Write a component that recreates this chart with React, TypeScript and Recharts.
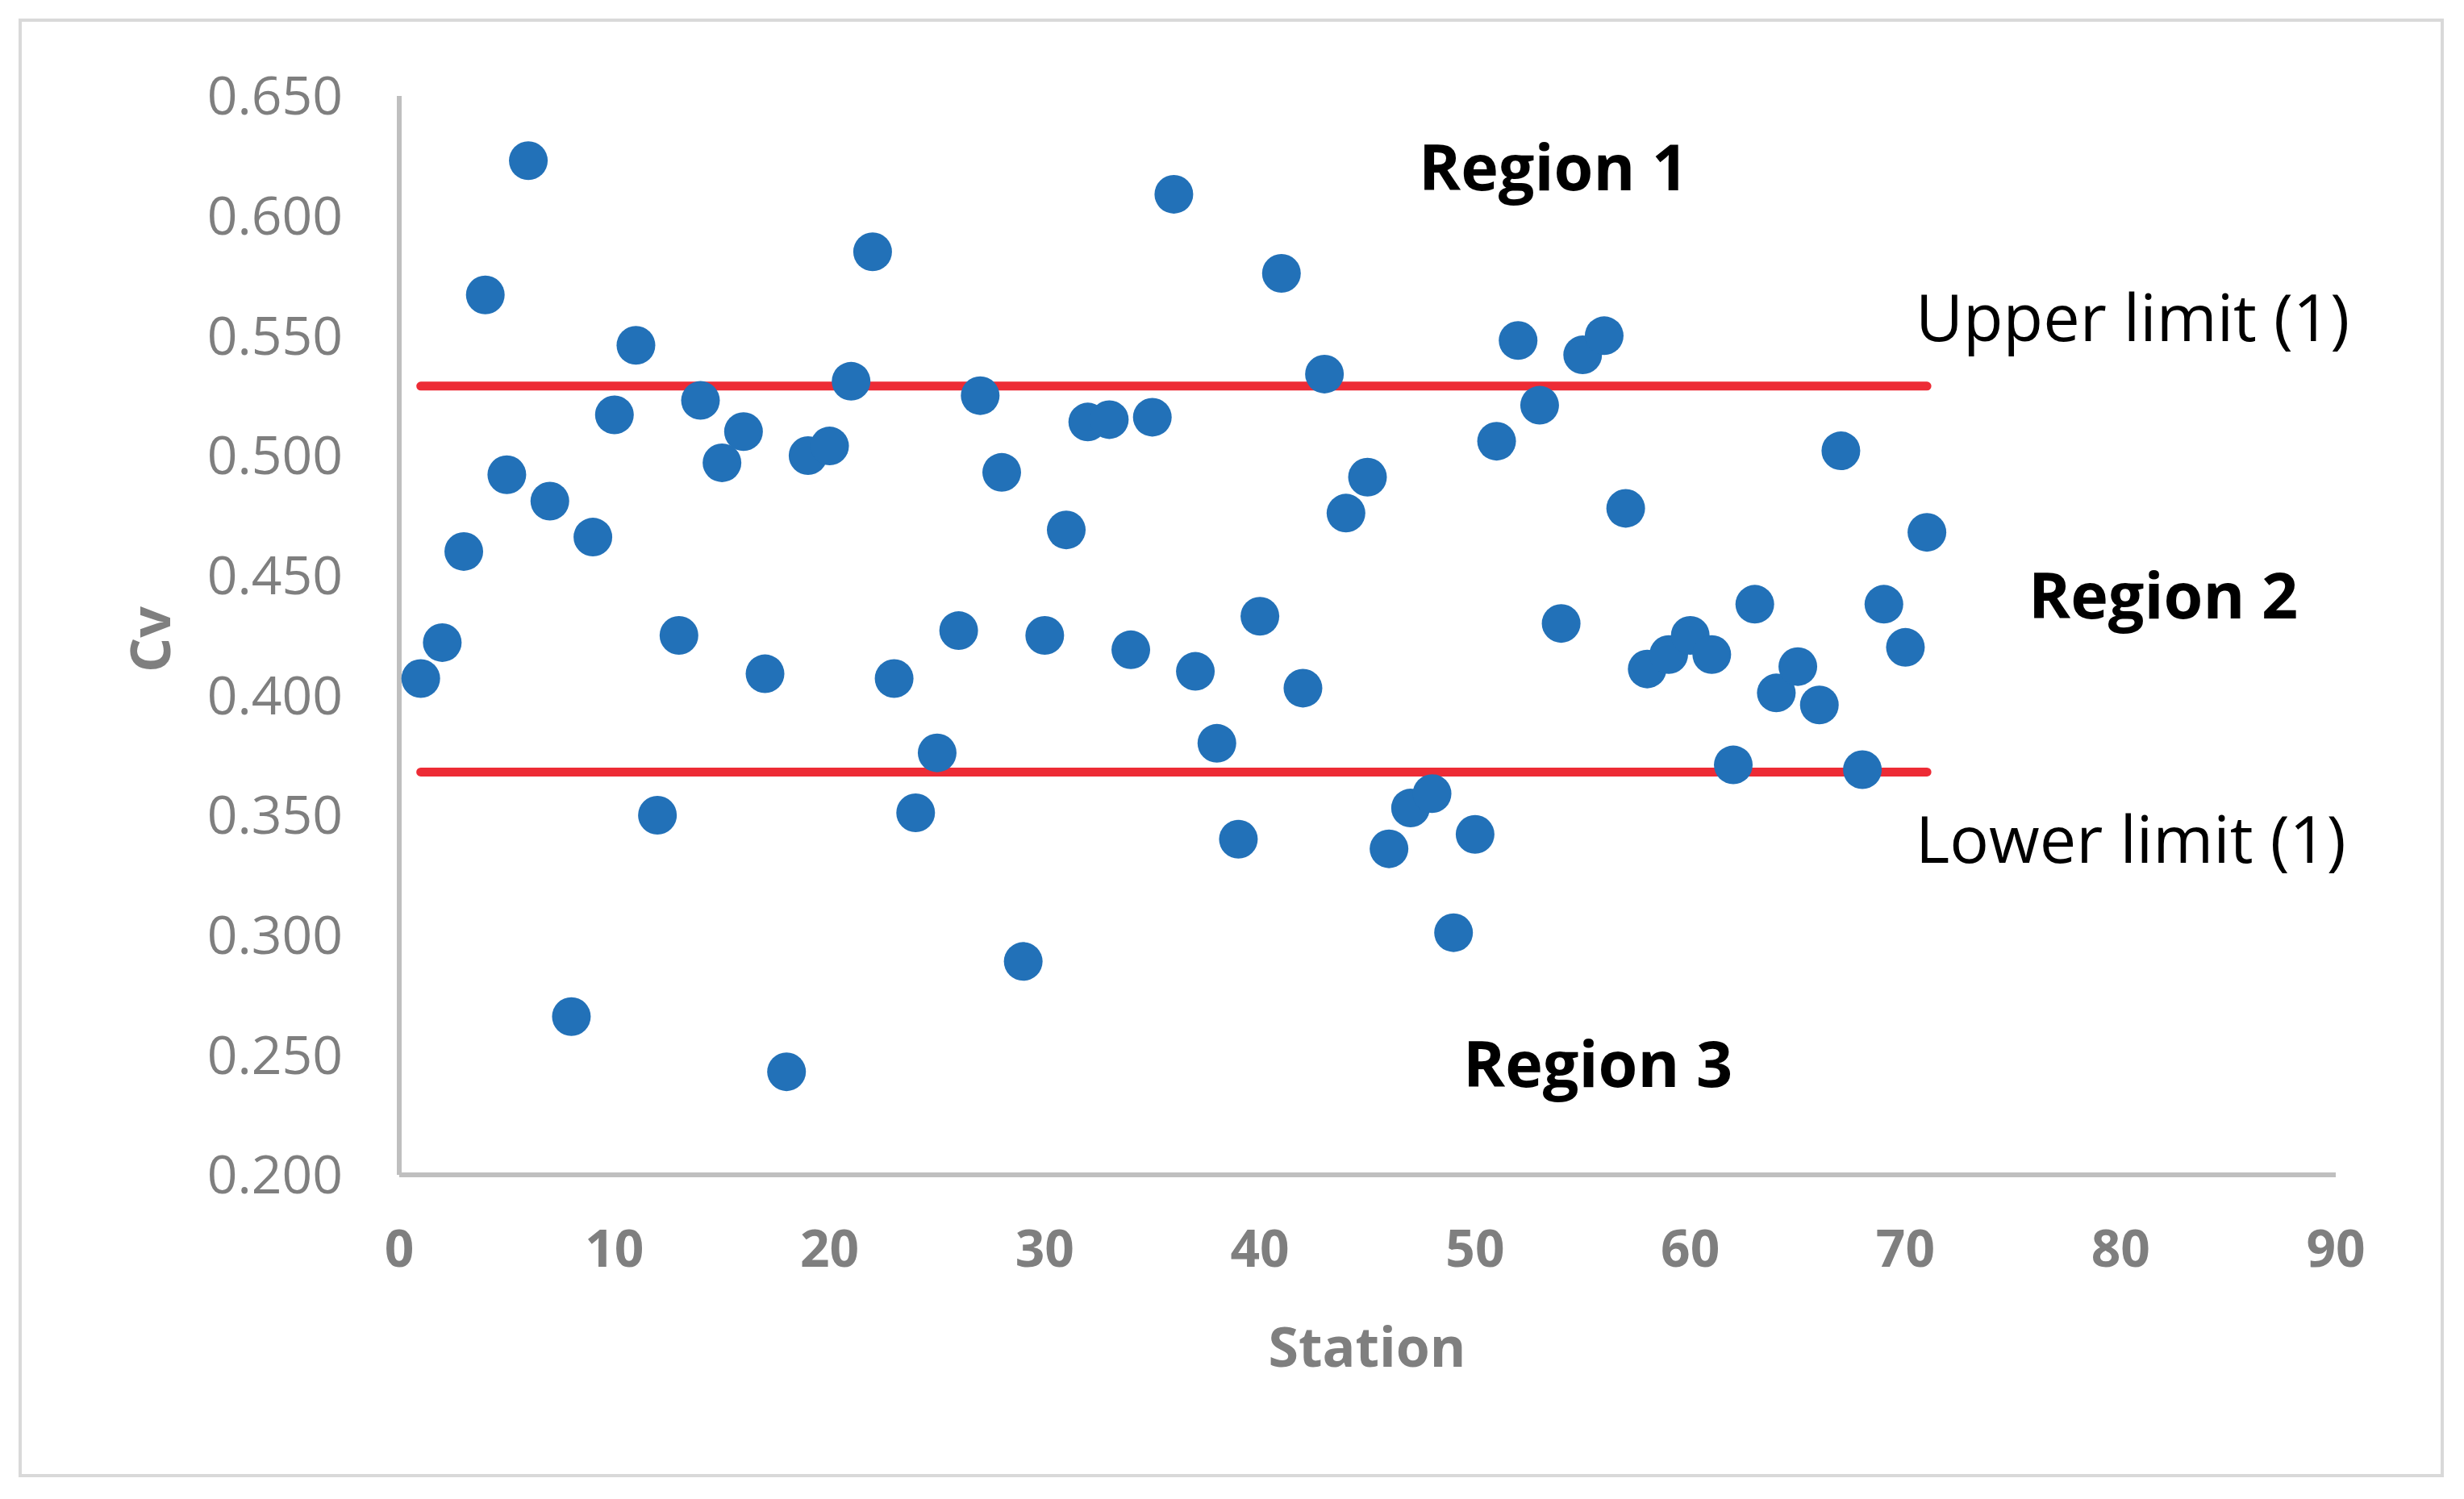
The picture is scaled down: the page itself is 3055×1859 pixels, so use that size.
import React from 'react';
import {
  ScatterChart,
  Scatter,
  XAxis,
  YAxis,
  ReferenceLine,
} from 'recharts';

const stations = [
  1, 2, 3, 4, 5, 6, 7, 8, 9, 10, 11, 12, 13, 14, 15, 16, 17, 18, 19, 20,
  21, 22, 23, 24, 25, 26, 27, 28, 29, 30, 31, 32, 33, 34, 35, 36, 37, 38, 39, 40,
  41, 42, 43, 44, 45, 46, 47, 48, 49, 50, 51, 52, 53, 54, 55, 56, 57, 58, 59, 60,
  61, 62, 63, 64, 65, 66, 67, 68, 69, 70, 71,
];

const cvValues = [
  0.407, 0.422, 0.460, 0.567, 0.492, 0.623, 0.481, 0.266, 0.466, 0.517,
  0.546, 0.350, 0.425, 0.523, 0.497, 0.510, 0.409, 0.243, 0.500, 0.504,
  0.531, 0.585, 0.407, 0.351, 0.376, 0.427, 0.525, 0.493, 0.289, 0.425,
  0.469, 0.514, 0.515, 0.419, 0.516, 0.609, 0.410, 0.380, 0.340, 0.433,
  0.576, 0.403, 0.534, 0.476, 0.491, 0.336, 0.353, 0.359, 0.301, 0.342,
  0.506, 0.548, 0.521, 0.430, 0.542, 0.550, 0.478, 0.411, 0.417, 0.425,
  0.417, 0.371, 0.438, 0.401, 0.412, 0.396, 0.502, 0.369, 0.438, 0.420,
  0.468,
];

const xTicks = [0, 10, 20, 30, 40, 50, 60, 70, 80, 90];
const yTicks = [0.2, 0.25, 0.3, 0.35, 0.4, 0.45, 0.5, 0.55, 0.6, 0.65];

// limit lines run from the first to the last station
const limitStations = [1, 71];
const upperLimit = 0.529;
const lowerLimit = 0.368;

const data = stations.map((s, i) => ({ station: s, cv: cvValues[i] }));

const FONT = '"Open Sans", sans-serif';
const GREY = '#7f7f7f';
const BLUE = '#2271b8';
const RED = '#ed2b35';

const Dot = (props: any) => {
  const { cx, cy } = props;
  return <circle cx={cx} cy={cy} r={24} fill={BLUE} />;
};

const textStyle = (left: number, top: number, size: number, bold: boolean, color = '#000'): React.CSSProperties => ({
  position: 'absolute',
  left,
  top,
  transform: 'translateY(-50%)',
  fontFamily: FONT,
  fontSize: size,
  fontWeight: bold ? 700 : 400,
  color,
  lineHeight: 1,
  whiteSpace: 'nowrap',
});

export default function App() {
  return (
    <div
      style={{
        position: 'absolute',
        left: 0,
        top: 0,
        width: 3055,
        height: 1859,
        background: '#fff',
      }}
    >
      <div
        style={{
          position: 'absolute',
          left: 23,
          top: 23,
          width: 3007,
          height: 1809,
          border: '4px solid #d9d9d9',
          boxSizing: 'border-box',
        }}
      />
      <ScatterChart
        width={3055}
        height={1859}
        margin={{ top: 119, right: 159, bottom: 252, left: 95 }}
        style={{ position: 'absolute', left: 0, top: 0 }}
      >
        <XAxis
          type="number"
          dataKey="station"
          domain={[0, 90]}
          ticks={xTicks}
          height={150}
          tickSize={0}
          tickMargin={69}
          axisLine={{ stroke: '#bfbfbf', strokeWidth: 6 }}
          tick={{ fill: GREY, fontSize: 64, fontFamily: FONT, fontWeight: 700 }}
        />
        <YAxis
          type="number"
          dataKey="cv"
          domain={[0.2, 0.65]}
          ticks={yTicks}
          width={400}
          tickSize={0}
          tickMargin={70}
          axisLine={{ stroke: '#bfbfbf', strokeWidth: 6 }}
          tickFormatter={(v: number) => v.toFixed(3)}
          tick={{ fill: GREY, fontSize: 66, fontFamily: FONT }}
        />
        <Scatter data={data} shape={Dot} isAnimationActive={false} />
        <ReferenceLine
          segment={[
            { x: limitStations[0], y: upperLimit },
            { x: limitStations[1], y: upperLimit },
          ]}
          stroke={RED}
          strokeWidth={11}
          strokeLinecap="round"
        />
        <ReferenceLine
          segment={[
            { x: limitStations[0], y: lowerLimit },
            { x: limitStations[1], y: lowerLimit },
          ]}
          stroke={RED}
          strokeWidth={11}
          strokeLinecap="round"
        />
      </ScatterChart>

      <div style={textStyle(1759, 205, 79, true)}>Region 1</div>
      <div style={textStyle(2515, 736, 79, true)}>Region 2</div>
      <div style={textStyle(1814, 1317, 79, true)}>Region 3</div>
      <div style={textStyle(2375, 391, 81, false)}>Upper limit (1)</div>
      <div style={textStyle(2375, 1038, 81, false)}>Lower limit (1)</div>

      <div
        style={{
          ...textStyle(0, 1669, 68, true, GREY),
          left: 1695,
          transform: 'translate(-50%, -50%)',
        }}
      >
        Station
      </div>
      <div
        style={{
          ...textStyle(0, 793, 68, true, GREY),
          left: 185,
          transform: 'translate(-50%, -50%) rotate(-90deg)',
        }}
      >
        Cv
      </div>
    </div>
  );
}
